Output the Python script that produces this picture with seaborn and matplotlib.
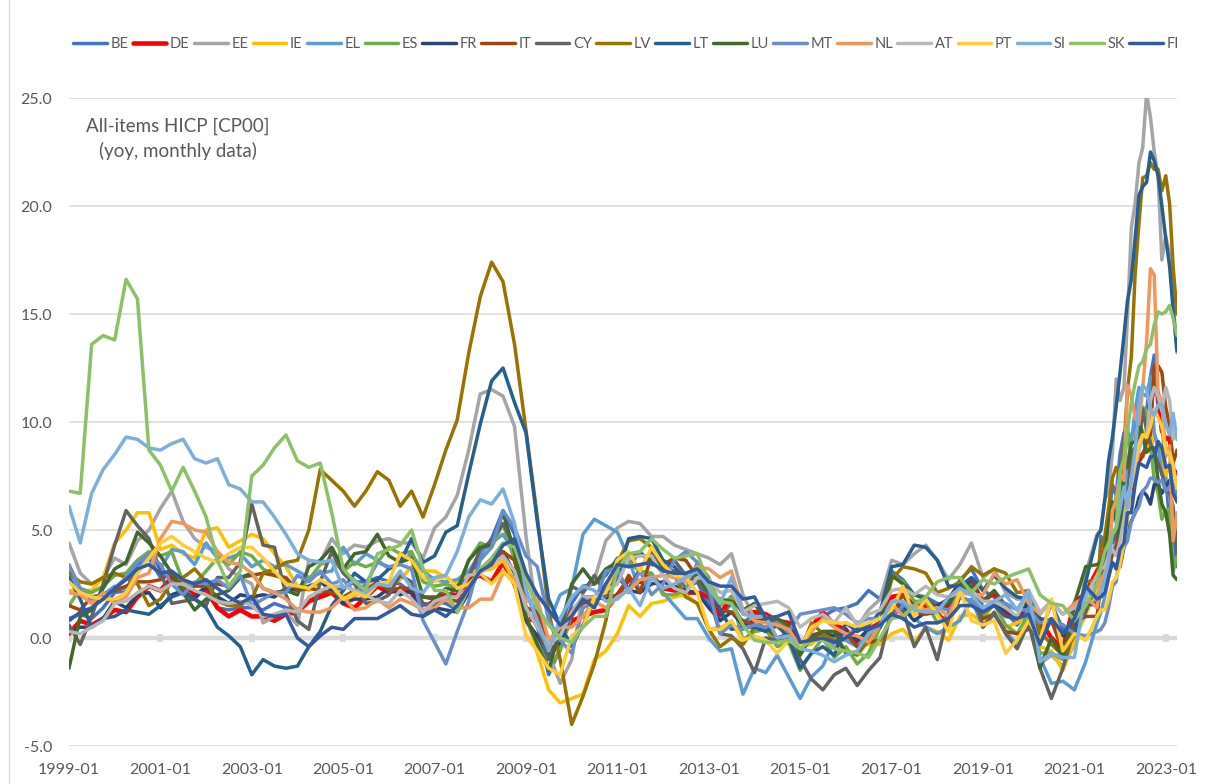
import numpy as np
import pandas as pd
import seaborn as sns
from matplotlib import pyplot as plt
from matplotlib.lines import Line2D

# quarterly points (Jan/Apr/Jul/Oct) 1999-01 .. 2021-07, then monthly 2021-08 .. 2023-04
quarters = pd.date_range("1999-01-01", "2021-07-01", freq="3MS")
months = pd.date_range("2021-08-01", "2023-04-01", freq="MS")
dates = quarters.append(months)

countries = ["BE", "DE", "EE", "IE", "EL", "ES", "FR", "IT", "CY", "LV",
             "LT", "LU", "MT", "NL", "AT", "PT", "SI", "SK", "FI"]

colors = ["#4472C4", "#FF0000", "#A5A5A5", "#FFC000", "#5B9BD5", "#70AD47",
          "#264478", "#9E480E", "#636363", "#997300", "#255E91", "#43682B",
          "#698ED0", "#F1975A", "#B7B7B7", "#FFCD33", "#7CAFDD", "#8CC168",
          "#335AA1"]

BE = [0.9, 1.1, 0.9, 1.4, 2.1, 2.2, 3.4, 3.7, 2.8, 3.0, 2.3, 2.1, 2.1, 1.4, 1.3, 1.4,
      1.4, 1.3, 1.6, 1.4, 1.3, 1.7, 2.0, 2.2, 2.3, 2.6, 2.6, 2.8, 2.6, 2.5, 2.1, 1.5,
      1.7, 1.6, 1.3, 2.5, 3.8, 4.6, 5.9, 4.8, 2.2, 0.7, -1.7, -0.5, 1.6, 2.4, 2.5, 2.9,
      3.7, 3.3, 4.0, 3.4, 3.3, 3.1, 2.3, 2.6, 1.5, 1.0, 1.6, 0.7, 1.1, 0.9, 0.6, 0.3,
      -0.5, 0.6, 1.0, 1.3, 1.4, 1.6, 2.2, 1.8, 3.1, 2.7, 2.0, 1.9, 1.6, 1.5, 2.7, 3.2,
      2.2, 1.9, 1.2, 0.6, 1.4, 0.2, 1.6, 0.4, 0.6, 2.4, 1.4,
      4.7, 4.1, 5.4, 7.1, 6.6, 8.5, 9.5, 9.3, 9.3, 9.9, 10.5, 10.4, 10.5, 12.1, 13.1,
      10.5, 10.2, 7.4, 5.4, 4.9, 3.3]
DE = [0.2, 0.8, 0.6, 0.9, 1.3, 1.2, 1.9, 2.4, 2.2, 2.8, 2.6, 2.0, 2.3, 1.4, 1.0, 1.3,
      1.0, 1.0, 0.8, 1.1, 1.2, 1.7, 1.9, 2.1, 1.6, 1.4, 1.9, 2.4, 2.1, 2.3, 2.1, 1.1,
      1.8, 2.0, 2.0, 2.7, 2.9, 2.6, 3.5, 2.5, 0.9, 0.8, -0.7, -0.1, 0.8, 1.0, 1.2, 1.3,
      2.0, 2.7, 2.6, 2.9, 2.3, 2.2, 2.1, 2.1, 1.9, 1.1, 1.9, 1.2, 1.2, 1.1, 0.8, 0.7,
      -0.5, 0.5, 1.2, 0.6, 0.4, -0.3, 0.4, 0.7, 1.9, 2.0, 1.5, 1.5, 1.4, 1.4, 2.1, 2.6,
      1.7, 2.1, 1.1, 0.9, 1.6, 0.8, 0.0, -0.5, 1.6, 2.1, 3.1,
      3.4, 4.1, 4.6, 6.0, 5.7, 5.1, 5.5, 7.6, 7.8, 8.7, 8.2, 8.5, 8.8, 10.9, 11.6,
      11.3, 9.6, 9.2, 9.3, 7.8, 7.6]
EE = [4.4, 3.0, 2.5, 2.8, 3.7, 3.4, 4.5, 5.0, 6.0, 6.8, 5.4, 4.6, 4.2, 4.0, 3.2, 2.8,
      2.5, 0.7, 1.0, 1.2, 0.6, 3.6, 3.5, 4.6, 3.9, 4.3, 4.2, 4.5, 4.6, 4.4, 4.4, 3.7,
      5.1, 5.6, 6.6, 8.7, 11.3, 11.5, 11.2, 9.8, 4.7, 0.9, -0.7, -2.1, -1.0, 2.1, 2.7, 4.5,
      5.1, 5.4, 5.3, 4.7, 4.7, 4.3, 4.1, 3.9, 3.7, 3.4, 3.9, 2.0, 0.9, 0.8, 0.5, 0.2,
      -0.6, 0.2, 0.1, -0.4, 0.1, 0.5, 1.3, 1.8, 3.6, 3.4, 3.9, 4.3, 3.6, 2.7, 3.4, 4.4,
      2.8, 3.2, 2.1, 1.8, 1.8, -1.2, -0.8, -1.3, -0.3, 3.0, 4.8,
      5.0, 6.4, 6.8, 8.6, 12.0, 11.0, 11.6, 14.8, 19.0, 20.1, 22.0, 22.7, 25.2, 24.1, 22.5,
      21.4, 17.5, 18.6, 17.8, 15.6, 13.2]
IE = [2.2, 2.2, 2.2, 2.8, 4.4, 5.0, 5.8, 5.8, 4.1, 4.3, 3.9, 3.7, 5.0, 5.1, 4.2, 4.5,
      4.8, 4.6, 3.9, 3.3, 2.4, 2.2, 2.6, 2.4, 1.9, 1.9, 2.4, 2.5, 2.4, 2.7, 3.3, 3.1,
      3.1, 2.8, 2.5, 3.1, 3.1, 3.2, 3.6, 2.6, 1.1, -0.7, -2.4, -3.0, -2.8, -2.6, -1.0, -0.6,
      0.2, 1.5, 1.0, 1.6, 1.7, 1.9, 2.0, 1.6, 0.4, 0.5, 0.7, -0.1, 0.3, 0.4, 0.5, 0.4,
      -0.4, -0.3, 0.2, -0.1, -0.1, -0.4, -0.3, -0.3, 0.2, 0.4, -0.2, 0.5, 0.3, -0.1, 1.0, 1.1,
      0.7, 1.7, 0.5, 0.7, 1.1, -0.4, -0.6, -1.5, -0.1, 1.1, 2.2,
      3.0, 3.8, 5.1, 5.4, 5.7, 5.0, 5.7, 6.9, 7.3, 8.3, 9.6, 9.6, 9.0, 8.6, 9.4,
      9.0, 8.2, 7.5, 8.1, 7.0, 6.3]
EL = [3.1, 2.2, 1.9, 2.0, 2.4, 2.2, 3.0, 3.9, 3.2, 4.1, 4.0, 3.4, 4.4, 3.7, 3.7, 3.9,
      3.3, 3.6, 3.3, 3.4, 3.1, 2.8, 3.0, 3.1, 4.2, 3.4, 3.9, 3.6, 3.2, 3.5, 3.9, 3.1,
      2.7, 2.6, 2.7, 3.1, 3.9, 4.4, 4.8, 3.9, 2.0, 1.1, 0.7, 2.0, 2.3, 4.8, 5.5, 5.2,
      4.9, 3.7, 2.1, 3.0, 2.1, 1.5, 0.9, 0.9, 0.0, -0.6, -0.5, -2.6, -1.4, -1.6, -0.8, -1.8,
      -2.8, -1.8, -1.3, -0.1, -0.1, -0.4, 0.2, 0.5, 1.5, 1.6, 0.9, 0.5, 0.2, 0.5, 0.8, 1.8,
      0.5, 1.1, 0.3, -0.3, 1.4, -0.9, -2.1, -2.0, -2.4, -1.1, 0.7,
      1.2, 1.9, 2.8, 4.0, 4.4, 5.5, 6.3, 8.0, 9.1, 10.5, 11.6, 11.3, 11.2, 12.1, 9.5,
      8.8, 7.6, 7.3, 6.5, 5.4, 4.5]
ES = [1.5, 2.3, 2.1, 2.4, 2.9, 3.0, 3.6, 4.0, 3.8, 4.0, 2.6, 2.5, 3.1, 3.7, 3.4, 4.0,
      3.8, 3.2, 2.9, 2.7, 2.3, 2.7, 3.4, 3.6, 3.1, 3.5, 3.3, 3.5, 4.2, 3.9, 4.0, 2.6,
      2.4, 2.5, 2.3, 3.6, 4.4, 4.2, 5.3, 3.6, 0.8, -0.2, -1.4, -0.6, 1.1, 1.6, 1.9, 2.5,
      3.0, 3.5, 3.1, 3.0, 2.0, 2.0, 2.2, 3.5, 2.8, 1.5, 1.9, -0.1, 0.3, 0.4, -0.4, -0.2,
      -1.5, -0.7, 0.0, -0.9, -0.4, -1.2, -0.7, 0.5, 2.9, 2.6, 1.7, 1.7, 0.7, 1.1, 2.3, 2.3,
      1.0, 1.6, 0.6, 0.2, 1.1, -0.7, -0.7, -1.0, 0.4, 2.0, 2.9,
      3.3, 4.0, 5.4, 5.5, 6.6, 6.2, 7.6, 9.8, 8.3, 8.5, 10.0, 10.7, 10.5, 9.0, 7.3,
      6.7, 5.5, 5.9, 6.0, 3.1, 3.8]
FR = [0.3, 0.5, 0.5, 0.9, 1.7, 1.4, 2.0, 2.1, 1.4, 2.0, 2.2, 1.8, 2.4, 1.9, 1.6, 2.0,
      1.9, 2.0, 1.9, 2.3, 2.2, 2.4, 2.6, 2.2, 1.6, 1.8, 1.8, 1.9, 2.3, 2.0, 2.2, 1.2,
      1.4, 1.3, 1.2, 2.1, 3.2, 3.4, 4.0, 3.0, 0.8, 0.1, -0.8, -0.2, 1.2, 1.9, 1.9, 1.8,
      2.0, 2.2, 2.1, 2.5, 2.6, 2.4, 2.2, 2.1, 1.4, 0.8, 1.2, 0.6, 0.8, 0.8, 0.6, 0.5,
      -0.4, 0.1, 0.2, 0.1, 0.3, -0.1, 0.4, 0.5, 1.6, 1.4, 0.8, 1.2, 1.5, 1.8, 2.6, 2.5,
      1.4, 1.5, 1.3, 0.9, 1.7, 0.4, 0.9, 0.1, 0.8, 1.6, 1.5,
      2.4, 2.7, 3.2, 3.4, 3.4, 3.3, 4.2, 5.1, 5.4, 5.8, 6.5, 6.8, 6.6, 6.2, 7.1,
      7.1, 6.7, 7.0, 7.3, 6.7, 6.9]
IT = [1.5, 1.3, 1.9, 2.0, 2.2, 2.4, 2.6, 2.6, 2.7, 3.0, 2.2, 2.4, 2.4, 2.5, 2.4, 2.8,
      2.9, 3.0, 2.9, 2.8, 2.2, 2.3, 2.2, 2.1, 1.9, 2.2, 2.2, 2.6, 2.2, 2.3, 2.3, 1.9,
      1.9, 1.8, 1.7, 2.3, 3.1, 3.6, 4.0, 3.6, 1.4, 1.2, -0.1, 0.3, 1.3, 1.6, 1.8, 2.0,
      1.9, 2.9, 2.1, 3.8, 3.4, 3.7, 3.6, 2.8, 2.4, 1.3, 1.2, 0.8, 0.6, 0.5, 0.0, 0.2,
      -0.5, -0.1, 0.3, 0.3, 0.2, -0.4, -0.2, -0.1, 1.0, 2.0, 1.2, 1.1, 1.2, 0.6, 1.9, 1.7,
      0.9, 1.1, 0.3, 0.2, 0.4, 0.1, 0.8, -0.6, 0.7, 1.0, 1.0,
      2.5, 2.9, 3.2, 3.9, 4.2, 5.1, 6.2, 6.8, 6.3, 7.3, 8.5, 8.4, 9.1, 9.4, 12.6,
      12.6, 12.3, 10.7, 9.8, 8.1, 8.7]
CY = [0.6, -0.3, 1.0, 2.5, 4.3, 5.9, 5.2, 4.6, 3.1, 1.6, 1.7, 1.8, 1.5, 2.8, 2.8, 3.5,
      6.2, 4.3, 4.2, 2.0, 0.8, 0.4, 2.6, 4.0, 3.0, 2.5, 1.6, 1.7, 2.0, 2.9, 2.6, 1.6,
      1.5, 1.8, 2.4, 2.8, 4.1, 4.5, 5.3, 4.2, 1.4, 0.5, -1.0, 0.1, 2.4, 2.1, 2.9, 2.0,
      2.8, 2.3, 3.2, 4.0, 3.1, 3.6, 2.9, 2.6, 2.0, 0.2, 0.1, -0.5, -1.6, 0.0, -0.1, -0.1,
      -1.0, -1.9, -2.4, -1.7, -1.4, -2.2, -1.5, -0.9, 1.3, 1.3, -0.4, 0.5, -1.0, 1.2, 2.0, 2.5,
      0.5, 1.2, 0.2, -0.5, 0.7, -1.4, -2.8, -1.4, 0.4, 1.2, 2.6,
      2.9, 3.6, 4.4, 4.4, 4.8, 5.0, 5.8, 6.2, 8.6, 8.8, 9.0, 10.6, 9.6, 9.0, 8.6,
      8.1, 7.6, 6.8, 6.7, 6.1, 3.9]
LV = [3.0, 2.6, 2.5, 2.8, 3.0, 2.8, 2.5, 1.5, 1.8, 2.6, 2.8, 3.2, 2.6, 1.7, 1.5, 1.5,
      1.8, 3.0, 3.2, 3.5, 3.6, 5.0, 7.8, 7.3, 6.8, 6.1, 6.8, 7.7, 7.3, 6.1, 6.8, 5.6,
      7.1, 8.7, 10.1, 13.2, 15.8, 17.4, 16.5, 13.6, 9.6, 5.6, 1.2, -1.0, -4.0, -2.7, -1.2, 0.8,
      3.5, 4.5, 4.6, 4.2, 3.4, 2.9, 1.9, 1.6, 0.4, -0.4, 0.0, -0.3, 0.5, 0.8, 0.8, 0.4,
      -0.7, 0.7, 0.2, -0.1, -0.6, -0.8, -0.1, 0.7, 2.7, 3.3, 3.2, 3.0, 2.1, 2.3, 2.6, 3.3,
      2.9, 3.2, 3.0, 2.1, 2.2, 0.3, -0.3, -0.8, 0.1, 2.6, 2.7,
      4.2, 4.7, 6.0, 7.4, 7.9, 7.5, 8.8, 11.5, 13.0, 16.8, 19.2, 21.3, 21.4, 22.0, 21.7,
      21.7, 20.7, 21.4, 20.1, 17.2, 15.0]
LT = [2.8, 1.8, 0.5, 0.9, 1.0, 1.3, 1.2, 1.1, 1.5, 1.9, 2.1, 1.8, 1.4, 0.5, 0.1, -0.4,
      -1.7, -1.0, -1.3, -1.4, -1.3, -0.4, 0.3, 1.5, 2.2, 3.0, 2.6, 2.7, 3.2, 3.5, 4.6, 3.5,
      3.8, 4.9, 5.2, 7.6, 9.9, 11.9, 12.5, 10.9, 9.5, 5.4, 1.8, 0.6, -0.4, 0.6, 1.7, 2.1,
      2.8, 4.6, 4.7, 4.6, 3.6, 3.3, 2.7, 3.1, 2.7, 1.3, 0.4, 0.5, 0.5, 0.3, 0.6, 0.0,
      -1.4, -0.7, -0.4, -0.8, 0.7, 0.3, 0.6, 1.2, 3.3, 3.4, 4.3, 4.2, 3.6, 2.4, 2.4, 2.8,
      2.2, 2.9, 2.3, 1.9, 1.8, 0.9, 0.8, 0.6, 0.2, 2.6, 4.7,
      5.0, 6.4, 8.2, 9.3, 10.7, 12.3, 14.0, 15.6, 16.6, 18.5, 20.5, 20.9, 21.1, 22.5, 22.1,
      21.4, 20.0, 18.5, 17.2, 15.2, 13.3]
LU = [-1.4, 1.0, 1.3, 2.3, 3.2, 3.5, 4.9, 4.4, 3.8, 3.0, 2.1, 1.3, 1.8, 2.0, 2.2, 2.8,
      3.0, 2.3, 2.1, 2.2, 2.0, 3.3, 3.6, 4.2, 3.2, 3.9, 4.0, 4.8, 3.8, 3.5, 3.7, 1.9,
      1.8, 2.3, 2.2, 3.6, 4.2, 4.3, 5.8, 4.0, 1.0, -0.3, -1.5, 0.4, 2.5, 3.2, 2.5, 3.2,
      3.5, 3.8, 3.9, 3.6, 3.3, 3.0, 2.8, 2.9, 2.1, 1.8, 1.7, 1.3, 1.6, 0.8, 0.9, 0.6,
      -0.8, 0.1, 0.3, 0.3, -0.7, -0.7, 0.3, 0.7, 2.9, 2.5, 2.0, 1.8, 1.4, 1.6, 2.3, 2.4,
      1.7, 2.2, 1.5, 0.9, 2.1, -1.4, 0.0, -0.9, 1.6, 3.3, 3.4,
      3.5, 4.0, 5.3, 6.3, 5.4, 4.6, 7.8, 7.9, 9.0, 9.1, 10.3, 9.3, 8.6, 8.8, 8.8,
      7.3, 6.2, 5.8, 4.8, 2.9, 2.7]
MT = [3.4, 2.3, 1.8, 2.0, 2.3, 2.8, 3.5, 3.9, 3.4, 2.5, 2.0, 2.6, 2.5, 2.7, 2.3, 2.9,
      1.5, 1.8, 2.1, 2.1, 2.9, 2.6, 3.1, 2.5, 2.7, 2.1, 2.5, 3.5, 3.3, 3.4, 3.2, 0.8,
      -0.2, -1.2, 0.3, 1.7, 3.6, 4.2, 5.9, 5.1, 3.8, 3.3, 0.8, -0.1, -0.7, 1.4, 1.6, 3.1,
      3.2, 2.1, 3.1, 2.0, 2.5, 3.6, 4.0, 3.5, 2.3, 0.2, 0.6, 0.4, 0.6, 0.5, 0.7, 0.3,
      1.1, 1.2, 1.3, 1.4, 1.1, 0.7, 0.9, 0.9, 0.9, 1.5, 1.5, 1.2, 1.4, 1.3, 1.9, 1.7,
      1.3, 1.7, 1.6, 1.3, 1.3, 0.7, 0.8, 0.6, 0.2, 0.1, 0.3,
      0.4, 0.7, 1.4, 2.4, 2.6, 4.1, 4.2, 4.5, 5.4, 5.8, 6.1, 6.8, 7.0, 7.4, 7.4,
      7.2, 7.3, 6.8, 7.0, 7.1, 6.4]
NL = [2.1, 2.0, 1.6, 2.1, 1.6, 1.9, 2.8, 3.0, 4.6, 5.4, 5.3, 5.0, 4.9, 4.0, 3.5, 3.4,
      3.0, 2.3, 2.1, 1.8, 1.3, 1.2, 1.2, 1.4, 1.9, 1.3, 1.4, 1.8, 1.4, 1.8, 1.6, 1.3,
      1.4, 1.8, 1.4, 1.4, 1.8, 1.8, 3.0, 2.8, 1.7, 1.8, -0.1, 0.5, 0.5, 1.0, 1.7, 1.4,
      1.9, 2.2, 2.7, 2.8, 2.9, 2.8, 2.6, 3.3, 3.2, 2.8, 3.1, 1.3, 0.8, 0.7, 0.6, 0.4,
      -0.4, 0.3, 0.9, 0.5, 0.2, 0.1, -0.2, 0.6, 1.6, 1.0, 1.5, 1.3, 1.4, 1.0, 2.1, 2.0,
      2.0, 3.0, 2.5, 2.7, 1.6, 1.1, 1.7, 1.1, 1.6, 1.9, 1.4,
      2.7, 3.0, 3.7, 5.9, 6.4, 7.6, 7.3, 11.7, 11.2, 10.2, 9.9, 11.6, 13.7, 17.1, 16.8,
      11.3, 11.0, 8.4, 8.9, 4.5, 5.8]
AT = [0.3, 0.2, 0.5, 0.8, 1.6, 1.7, 2.1, 2.4, 2.2, 2.5, 2.5, 2.2, 2.0, 1.7, 1.6, 1.7,
      1.5, 1.0, 1.1, 1.3, 1.2, 1.9, 2.2, 2.4, 2.4, 2.2, 2.0, 1.7, 1.6, 2.2, 1.8, 1.2,
      1.7, 1.9, 1.9, 2.9, 3.0, 3.4, 3.8, 3.1, 1.4, 0.5, -0.3, 0.1, 1.2, 1.9, 1.9, 2.2,
      2.5, 3.7, 3.8, 3.8, 2.9, 2.3, 2.1, 2.8, 2.7, 2.1, 2.2, 1.2, 1.5, 1.6, 1.7, 1.4,
      0.5, 0.9, 1.1, 0.7, 1.4, 0.6, 1.1, 1.3, 2.2, 2.3, 2.0, 2.4, 2.0, 1.9, 2.1, 2.2,
      1.7, 1.7, 1.4, 1.0, 2.2, 1.2, 1.7, 1.1, 1.4, 1.9, 2.9,
      3.2, 3.3, 3.8, 4.1, 3.8, 4.5, 5.5, 6.6, 7.1, 7.7, 8.7, 9.4, 9.3, 11.0, 11.6,
      11.2, 10.5, 11.6, 11.0, 9.2, 9.5]
PT = [2.6, 2.1, 1.9, 1.8, 1.8, 2.1, 3.0, 3.7, 4.4, 4.7, 4.3, 4.0, 3.7, 3.5, 3.9, 4.2,
      4.2, 3.7, 3.1, 2.5, 2.4, 2.3, 2.7, 2.4, 1.8, 2.1, 1.9, 2.5, 2.6, 3.9, 3.6, 2.8,
      2.6, 2.9, 2.3, 2.5, 3.0, 2.5, 3.1, 2.5, 0.1, -0.6, -1.4, -1.7, 0.1, 0.5, 1.9, 2.1,
      3.6, 4.0, 3.1, 4.2, 3.4, 2.9, 2.8, 2.1, 0.4, 0.4, 0.8, -0.1, 0.1, -0.1, -0.7, -0.1,
      -0.4, 0.5, 0.8, 0.7, 0.7, 0.5, 0.7, 0.9, 1.3, 2.4, 1.0, 1.8, 1.1, 0.3, 2.2, 0.8,
      0.6, 0.8, -0.7, -0.1, 0.8, -0.1, 1.8, -0.6, 0.2, -0.1, 1.0,
      1.3, 1.3, 1.8, 2.6, 2.8, 3.4, 4.4, 5.5, 7.4, 8.1, 9.0, 9.4, 9.3, 9.8, 10.6,
      10.2, 9.8, 8.6, 8.6, 8.0, 6.9]
SI = [6.1, 4.4, 6.7, 7.8, 8.5, 9.3, 9.2, 8.8, 8.7, 9.0, 9.2, 8.3, 8.1, 8.3, 7.1, 6.9,
      6.3, 6.3, 5.6, 4.8, 3.9, 3.6, 3.5, 3.6, 2.3, 2.7, 2.1, 2.5, 2.4, 3.1, 2.3, 2.1,
      2.8, 2.9, 4.0, 5.6, 6.4, 6.2, 6.9, 5.3, 2.2, 0.8, -0.6, 0.9, 1.9, 2.4, 2.2, 1.7,
      1.8, 2.3, 1.5, 2.8, 2.3, 2.5, 2.8, 3.1, 2.3, 1.6, 2.8, 1.1, 1.0, 1.0, 0.0, 0.1,
      -0.5, -0.6, -0.8, -1.1, -0.8, -0.6, 0.2, 0.6, 1.7, 1.7, 1.3, 1.2, 1.2, 1.9, 2.3, 2.0,
      1.4, 1.7, 2.0, 1.3, 2.2, -1.1, -0.7, -0.9, -0.9, 2.2, 1.9,
      2.1, 2.7, 3.5, 4.9, 5.1, 6.0, 7.0, 6.0, 7.4, 8.7, 10.8, 11.7, 11.5, 10.6, 10.3,
      10.8, 10.8, 9.9, 9.4, 10.4, 9.2]
SK = [6.8, 6.7, 13.6, 14.0, 13.8, 16.6, 15.7, 8.7, 8.0, 6.8, 7.9, 6.8, 5.6, 3.6, 2.4, 3.1,
      7.5, 8.0, 8.8, 9.4, 8.2, 7.9, 8.1, 5.8, 3.2, 2.6, 2.2, 3.9, 4.1, 4.3, 5.0, 3.2,
      2.2, 2.2, 1.2, 2.3, 3.2, 3.7, 4.4, 4.2, 2.7, 1.4, 0.6, 0.0, -0.2, 0.5, 1.0, 1.0,
      3.2, 3.9, 4.0, 4.6, 4.1, 3.7, 3.8, 3.9, 2.5, 1.7, 1.6, 0.6, -0.1, -0.2, -0.2, -0.1,
      -0.5, -0.1, -0.1, -0.5, -0.6, -0.7, -0.9, 0.0, 0.9, 1.0, 1.5, 1.9, 2.6, 2.8, 2.8, 2.1,
      2.7, 2.5, 2.8, 3.0, 3.2, 2.0, 1.6, 1.5, 0.8, 1.5, 2.5,
      3.3, 4.0, 4.4, 4.8, 5.1, 7.7, 8.3, 9.6, 10.9, 11.8, 12.6, 12.8, 13.4, 13.6, 14.5,
      15.1, 15.0, 15.1, 15.4, 14.8, 14.0]
FI = [0.8, 1.2, 1.4, 1.8, 2.3, 2.7, 3.2, 3.4, 3.0, 3.1, 2.7, 2.5, 2.7, 2.3, 1.9, 1.6,
      1.9, 1.1, 1.0, 1.1, 0.0, -0.4, 0.1, 0.5, 0.4, 0.9, 0.9, 0.9, 1.2, 1.5, 1.1, 1.0,
      1.3, 1.0, 1.5, 2.3, 3.1, 3.4, 4.3, 4.6, 3.0, 2.0, 1.3, 0.6, 1.0, 1.8, 1.4, 2.5,
      3.4, 3.3, 3.4, 3.5, 3.1, 3.0, 3.0, 3.2, 2.6, 2.4, 2.4, 1.8, 1.9, 0.9, 1.0, 1.2,
      -0.2, -0.1, 0.0, -0.2, 0.0, 0.4, 0.4, 0.6, 1.1, 0.9, 0.5, 0.7, 0.7, 0.9, 1.5, 1.5,
      1.2, 1.5, 1.0, 0.9, 1.1, -0.3, 0.9, 0.2, 0.9, 2.4, 1.8,
      1.9, 2.1, 2.8, 3.5, 3.2, 4.1, 4.4, 5.8, 5.8, 7.1, 8.1, 8.0, 7.9, 8.4, 8.4,
      9.1, 8.8, 7.9, 8.0, 6.7, 6.3]

series = [BE, DE, EE, IE, EL, ES, FR, IT, CY, LV, LT, LU, MT, NL, AT, PT, SI, SK, FI]
for name, vals in zip(countries, series):
    assert len(vals) == len(dates), (name, len(vals))

df = pd.DataFrame({
    "date": np.tile(dates, len(countries)),
    "country": np.repeat(countries, len(dates)),
    "value": np.concatenate(series),
})

sns.set_theme(style="white")
plt.rcParams["font.family"] = ["Lato", "DejaVu Sans"]
text_grey = "#595959"
grid_grey = "#D9D9D9"

fig = plt.figure(figsize=(12.11, 7.84), dpi=100)
ax = fig.add_axes([69 / 1211, 38 / 784, (1177 - 69) / 1211, (746 - 98) / 784])

ax.set_ylim(-5, 25)
ax.set_yticks(np.arange(-5, 26, 5))
ax.yaxis.grid(True, color=grid_grey, lw=1.1)
ax.set_axisbelow(True)

tick_dates = pd.date_range("1999-01-01", "2023-01-01", freq="24MS")
ax.axhline(0, color=grid_grey, lw=3.2, zorder=1)
ax.vlines(tick_dates, -0.18, 0.18, color=grid_grey, lw=4, zorder=1)

for name, col in zip(countries, colors):
    lw = 3.3 if name == "DE" else 2.5
    sns.lineplot(data=df[df["country"] == name], x="date", y="value", ax=ax,
                 color=col, lw=lw, label=name, zorder=2)

ax.set_xlim(dates[0], dates[-1])
ax.set_xticks(tick_dates)
ax.set_xticklabels([d.strftime("%Y-%m") for d in tick_dates])
ax.set_yticklabels([f"{v:.1f}" for v in np.arange(-5, 26, 5)])
ax.tick_params(axis="x", length=0, pad=12, labelsize=11.5, labelcolor=text_grey)
ax.tick_params(axis="y", length=0, pad=12, labelsize=11.5, labelcolor=text_grey)
ax.set_xlabel("")
ax.set_ylabel("")
for s in ax.spines.values():
    s.set_visible(False)

handles, labels = ax.get_legend_handles_labels()
ax.get_legend().remove()
leg = fig.legend(handles, labels, loc="center", bbox_to_anchor=(0.517, 0.944),
                 ncol=len(countries), frameon=False, fontsize=10.5,
                 handlelength=2.3, handletextpad=0.25, columnspacing=0.3,
                 labelcolor=text_grey)

fig.text(178 / 1211, 1 - 139 / 784, "All-items HICP [CP00]\n(yoy, monthly data)",
         ha="center", va="center", fontsize=13.5, linespacing=1.45, color=text_grey)

# chart-area border on the left edge
fig.add_artist(Line2D([9 / 1211, 9 / 1211], [0, 1], color=grid_grey, lw=1,
                      transform=fig.transFigure))

fig.savefig("out.png", dpi=100)
